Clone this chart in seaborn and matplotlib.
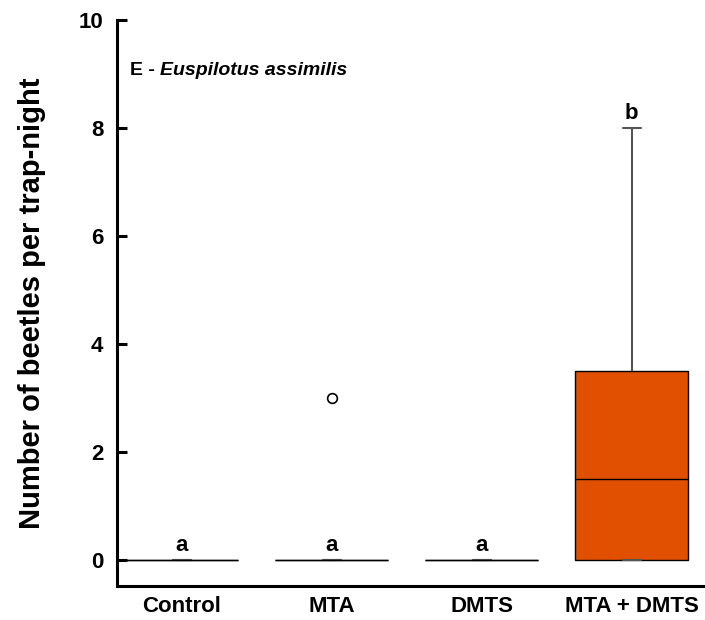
import pandas as pd
import seaborn as sns
import matplotlib.pyplot as plt

# --- data: beetles per trap-night for each lure treatment ---
treatments = ["Control", "MTA", "DMTS", "MTA + DMTS"]
control = [0, 0, 0, 0, 0, 0, 0, 0]
mta = [0, 0, 0, 0, 0, 0, 0, 3]
dmts = [0, 0, 0, 0, 0, 0, 0, 0]
mta_dmts = [0, 0, 0, 1, 2, 3, 5, 8]
letters = ["a", "a", "a", "b"]
box_colors = ["#a8a228", "#3f5f9e", "#b87a3c", "#e05000"]

rows = []
for name, vals in zip(treatments, [control, mta, dmts, mta_dmts]):
    for v in vals:
        rows.append({"Treatment": name, "Beetles": v})
df = pd.DataFrame(rows)

sns.set_style("ticks")
plt.rcParams['font.family'] = ['Liberation Sans', 'DejaVu Sans']
for key in ["text.color", "axes.labelcolor", "xtick.color", "ytick.color", "axes.edgecolor"]:
    plt.rcParams[key] = "black"

fig = plt.figure(figsize=(7.05, 6.2), dpi=100)
ax = fig.add_axes([0.166, 0.055, 0.834, 0.913])

sns.boxplot(data=df, x="Treatment", y="Beetles", hue="Treatment", order=treatments,
            hue_order=treatments, palette=box_colors, saturation=1, legend=False,
            width=0.75, linewidth=1, ax=ax,
            boxprops=dict(edgecolor="black", linewidth=1),
            medianprops=dict(color="black", linewidth=1),
            whiskerprops=dict(color="#555555", linewidth=1.5),
            capprops=dict(color="#555555", linewidth=1.5),
            flierprops=dict(marker="o", markerfacecolor="white", markeredgecolor="black",
                            markersize=7, markeredgewidth=1.2),
            capwidths=0.12)

# significance letters above each box
for i, vals in enumerate([control, mta, dmts, mta_dmts]):
    top = max(vals) if i == 3 else 0
    ax.text(i, top + 0.08, letters[i], ha="center", va="bottom",
            fontsize=16, fontweight="bold")

ax.set_ylim(-0.48, 10)
ax.set_xlim(-0.43, 3.49)
ax.set_yticks([0, 2, 4, 6, 8, 10])
ax.set_xlabel("")
ax.set_ylabel("Number of beetles per trap-night", fontsize=21, fontweight="bold", labelpad=23)

for lab in ax.get_xticklabels() + ax.get_yticklabels():
    lab.set_fontweight("bold")
ax.tick_params(axis="y", direction="in", length=7, width=2.2, labelsize=16, pad=10)
ax.tick_params(axis="x", length=0, labelsize=16, pad=7)

sns.despine(ax=ax)
ax.spines["left"].set_linewidth(2.2)
ax.spines["bottom"].set_linewidth(2.2)

# panel title: letter plain bold, species name bold italic
t1 = ax.text(0.022, 0.911, "E - ", transform=ax.transAxes, fontsize=14,
             fontweight="bold", va="center", ha="left")
fig.canvas.draw()
bb = t1.get_window_extent().transformed(ax.transAxes.inverted())
ax.text(bb.x1, 0.911, "Euspilotus assimilis", transform=ax.transAxes, fontsize=14,
        fontweight="bold", fontstyle="italic", va="center", ha="left")

fig.savefig("out.png", dpi=100)
